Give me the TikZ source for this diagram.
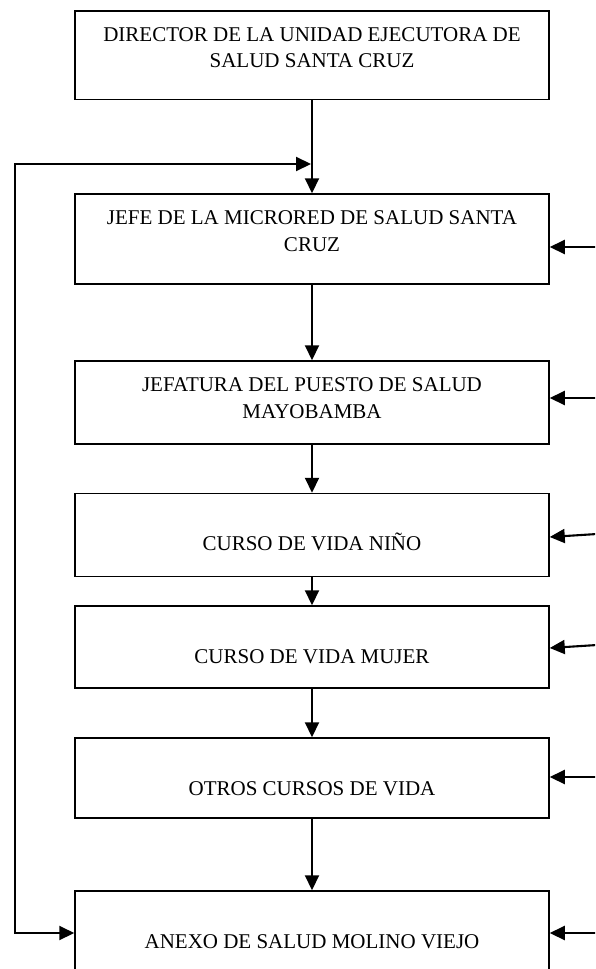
\documentclass[tikz,border=0pt]{standalone}
\usepackage{fontspec}
\setmainfont{Liberation Serif}
\usetikzlibrary{arrows.meta}
\newcommand\boxtxt[2]{\parbox[c][#1][t]{474pt}{\centering\fontsize{21pt}{26.5pt}\selectfont\vspace*{12pt}\strut #2\par}}
\tikzset{
  box/.style={draw, line width=1.5pt, inner sep=0pt, rectangle},
  tip/.tip={Triangle[length=15pt,width=14pt]},
  arr/.style={line width=2.1pt, -tip},
  arrboth/.style={line width=2.1pt, tip-tip}
}
\begin{document}
\begin{tikzpicture}[x=1pt,y=-1pt]
\clip (0,0) rectangle (595,969);
\fill[white] (0,0) rectangle (595,969);
\node[box] (b1) at (312,55)    {\boxtxt{88.5pt}{DIRECTOR DE LA UNIDAD EJECUTORA DE\\SALUD SANTA CRUZ}};
\node[box] (b2) at (312,239)   {\boxtxt{90pt}{JEFE DE LA MICRORED DE SALUD SANTA\\CRUZ}};
\node[box] (b3) at (312,402.5) {\boxtxt{83pt}{JEFATURA DEL PUESTO DE SALUD\\MAYOBAMBA}};
\node[box] (b4) at (312,535)   {\boxtxt{83pt}{\\CURSO DE VIDA NIÑO}};
\node[box] (b5) at (312,647)   {\boxtxt{82pt}{\\CURSO DE VIDA MUJER}};
\node[box] (b6) at (312,778)   {\boxtxt{80pt}{\\OTROS CURSOS DE VIDA}};
\node[box] (b7) at (312,940.5) {\boxtxt{99pt}{\\ANEXO DE SALUD MOLINO VIEJO}};
% vertical chain
\draw[arr] (b1.south) -- (b2.north);
\draw[arr] (b2.south) -- (b3.north);
\draw[arr] (b3.south) -- (b4.north);
\draw[arr] (b4.south) -- (b5.north);
\draw[arr] (b5.south) -- (b6.north);
\draw[arr] (b6.south) -- (b7.north);
% left feedback loop
\coordinate (fbT) at (15,164);
\coordinate (fbB) at (15,933);
\draw[arrboth] ([xshift=-1pt]b1.south |- fbT) -- (fbT) -- (fbB) -- (b7.west |- fbB);
% right side inputs
\coordinate (r2) at (597,247);
\coordinate (r3) at (597,398);
\coordinate (r4) at (597,534);
\coordinate (r5) at (597,645);
\coordinate (r6) at (597,777);
\coordinate (r7) at (597,933);
\draw[arr] (r2) -- (b2.east |- r2);
\draw[arr] (r3) -- (b3.east |- r3);
\draw[arr] (r4) -- ([yshift=-3pt]b4.east |- r4);
\draw[arr] (r5) -- ([yshift=-3pt]b5.east |- r5);
\draw[arr] (r6) -- (b6.east |- r6);
\draw[arr] (r7) -- (b7.east |- r7);
\end{tikzpicture}
\end{document}
